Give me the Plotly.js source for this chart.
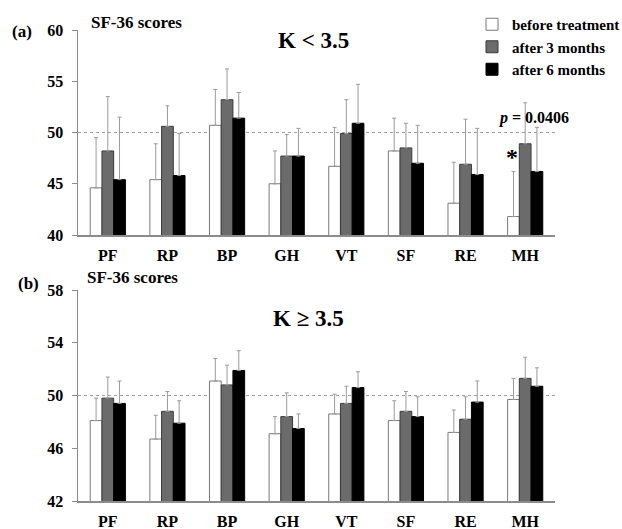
<!DOCTYPE html>
<html>
<head>
<meta charset="utf-8">
<script src="https://cdn.plot.ly/plotly-3.0.1.min.js"></script>
<style>html,body{margin:0;padding:0;background:#fff;}#chart{width:622px;height:529px;}</style>
</head>
<body>
<div id="chart"></div>
<script>
// ---- data ----
const categories = ["PF","RP","BP","GH","VT","SF","RE","MH"];
const seriesNames = ["before treatment","after 3 months","after 6 months"];

// (a) K < 3.5 : means
const aBefore = [44.6, 45.4, 50.7, 45.0, 46.7, 48.2, 43.1, 41.8];
const a3m     = [48.2, 50.6, 53.2, 47.7, 49.9, 48.5, 46.9, 48.9];
const a6m     = [45.4, 45.8, 51.4, 47.7, 50.9, 47.0, 45.9, 46.2];
// (a) upper error (SD)
const aBeforeSD = [4.9, 3.5, 3.5, 3.2, 3.8, 3.2, 4.0, 4.4];
const a3mSD     = [5.3, 2.0, 3.0, 2.1, 3.3, 2.4, 4.4, 4.0];
const a6mSD     = [6.1, 4.1, 2.5, 2.7, 3.8, 3.7, 4.5, 4.3];

// (b) K >= 3.5 : means
const bBefore = [48.1, 46.7, 51.1, 47.1, 48.6, 48.1, 47.2, 49.7];
const b3m     = [49.8, 48.8, 50.8, 48.4, 49.4, 48.8, 48.2, 51.3];
const b6m     = [49.4, 47.9, 51.9, 47.5, 50.6, 48.4, 49.5, 50.7];
// (b) upper error (SD)
const bBeforeSD = [1.7, 1.8, 1.7, 1.3, 1.5, 1.5, 1.7, 1.6];
const b3mSD     = [1.6, 1.5, 1.5, 1.8, 1.3, 1.5, 1.7, 1.6];
const b6mSD     = [1.7, 1.7, 1.5, 1.1, 1.2, 1.5, 1.6, 1.4];

const aTicks = [40, 45, 50, 55, 60];
const bTicks = [42, 46, 50, 54, 58];
const refLine = 50;
const pText = "<i>p</i> = 0.0406";

// ---- styling ----
const FONT = "Liberation Serif, Times New Roman, serif";
const fills = ["#ffffff", "#6b6b6b", "#000000"];
const edges = ["#7a7a7a", "#3a3a3a", "#000000"];
const axisGray = "#8c8c8c";

// pixel -> paper helpers (plot area: x 78..555, y 30..501)
const L = 78, R = 555, T = 30, B = 501;
const px = x => (x - L) / (R - L);
const py = y => (B - y) / (B - T);

function mk(y, sd, i, xa, ya, showLeg) {
  return {
    type: "bar", x: categories, y: y, name: seriesNames[i],
    xaxis: xa, yaxis: ya, showlegend: showLeg, legendgroup: "g" + i,
    marker: {color: fills[i], line: {color: edges[i], width: 1}},
    error_y: {type: "data", symmetric: false, array: sd,
              arrayminus: sd.map(() => 0), color: "#9a9a9a", thickness: 1, width: 2},
    hoverinfo: "skip"
  };
}

const traces = [
  mk(aBefore, aBeforeSD, 0, "x", "y", true),
  mk(a3m, a3mSD, 1, "x", "y", true),
  mk(a6m, a6mSD, 2, "x", "y", true),
  mk(bBefore, bBeforeSD, 0, "x2", "y2", false),
  mk(b3m, b3mSD, 1, "x2", "y2", false),
  mk(b6m, b6mSD, 2, "x2", "y2", false)
];

const tickFont = {family: FONT, size: 16, color: "#000", weight: 700};
const xCommon = {
  type: "category", range: [-0.5, 7.5], showline: true, linecolor: axisGray, linewidth: 2,
  ticks: "", tickfont: tickFont, ticklabelstandoff: 5, showgrid: false, zeroline: false, fixedrange: true
};
const yCommon = {
  showline: true, linecolor: axisGray, linewidth: 1.5, ticks: "outside", ticklen: 5,
  tickcolor: axisGray, tickfont: tickFont, ticklabelstandoff: 5, showgrid: false, zeroline: false, fixedrange: true
};

const topDom = [py(235), 1];
const botDom = [0, py(290)];

function ann(text, x, y, size, extra) {
  return Object.assign({text: text, xref: "paper", yref: "paper", x: px(x), y: py(y),
    xanchor: "center", yanchor: "middle", showarrow: false,
    font: {family: FONT, size: size, color: "#000", weight: 700}}, extra || {});
}

const layout = {
  width: 622, height: 529,
  margin: {l: L, r: 622 - R, t: T, b: 529 - B, pad: 0, autoexpand: false},
  paper_bgcolor: "#fff", plot_bgcolor: "#fff",
  barmode: "group", bargap: 0.41, bargroupgap: 0,
  font: {family: FONT, color: "#000"},
  xaxis: Object.assign({}, xCommon, {anchor: "y", domain: [0, 1]}),
  xaxis2: Object.assign({}, xCommon, {anchor: "y2", domain: [0, 1]}),
  yaxis: Object.assign({}, yCommon, {anchor: "x", domain: topDom, range: [aTicks[0], aTicks[aTicks.length-1]], tickvals: aTicks}),
  yaxis2: Object.assign({}, yCommon, {anchor: "x2", domain: botDom, range: [bTicks[0], bTicks[bTicks.length-1]], tickvals: bTicks}),
  legend: {
    x: px(472), y: py(8), xref: "paper", yref: "paper", xanchor: "left", yanchor: "top",
    font: {family: FONT, size: 15, color: "#000", weight: 700},
    bgcolor: "rgba(0,0,0,0)", itemwidth: 30, tracegroupgap: 0, traceorder: "normal"
  },
  shapes: [
    {type: "line", xref: "x domain", yref: "y", x0: 0, x1: 1, y0: refLine, y1: refLine,
     line: {color: "#a0a0a0", width: 1, dash: "dot"}, layer: "below"},
    {type: "line", xref: "x2 domain", yref: "y2", x0: 0, x1: 1, y0: refLine, y1: refLine,
     line: {color: "#a0a0a0", width: 1, dash: "dot"}, layer: "below"}
  ],
  annotations: [
    ann("(a)", 22, 31, 17),
    ann("SF-36 scores", 136, 22, 17),
    ann("K < 3.5", 313, 40, 23),
    ann(pText, 533, 118, 16),
    ann("*", 512, 157, 24),
    ann("(b)", 28, 283, 17),
    ann("SF-36 scores", 132, 277, 17),
    ann("K ≥ 3.5", 308, 318, 23)
  ]
};

Plotly.newPlot("chart", traces, layout, {staticPlot: true, displayModeBar: false});
</script>
</body>
</html>
